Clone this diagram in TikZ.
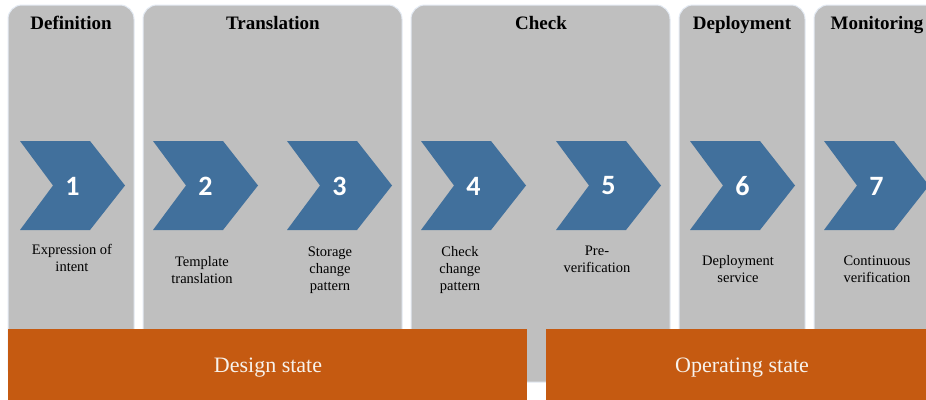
\documentclass[tikz,border=0pt]{standalone}
\usepackage{fontspec}
\setmainfont{Liberation Serif}
\newfontfamily\numfont{Carlito}
\definecolor{panelgrey}{HTML}{BFBFBF}
\definecolor{chevblue}{HTML}{41709C}
\definecolor{stateorange}{HTML}{C55A11}
\definecolor{glow}{HTML}{E4EBF4}
\definecolor{statetext}{HTML}{F7F2EC}
\begin{document}
\begin{tikzpicture}[x=1pt,y=-1pt,
  panel/.style={fill=panelgrey, draw=glow, line width=1pt, rounded corners=14pt},
  chev/.style={fill=chevblue},
  title/.style={font=\fontsize{19}{22}\selectfont\bfseries, anchor=base, inner sep=0pt},
  num/.style={font=\numfont\fontsize{28}{30}\selectfont\bfseries, text=white, inner sep=0pt},
  lbl/.style={font=\fontsize{14.5}{17}\selectfont, align=center, anchor=base, inner sep=0pt},
  statebar/.style={fill=stateorange},
  statelbl/.style={font=\fontsize{22}{26}\selectfont, text=statetext, anchor=base, inner sep=0pt}]
\useasboundingbox (0,0) rectangle (926,399);
\clip (0,0) rectangle (926,399);
\fill[white] (0,0) rectangle (926,399);
% panels
\filldraw[panel] (8,5) rectangle (134,382);
\filldraw[panel] (143,5) rectangle (402,382);
\filldraw[panel] (411,5) rectangle (670,382);
\filldraw[panel] (679,5) rectangle (805,382);
\filldraw[panel] (814,5) rectangle (945,382);
% titles
\node[title] (tdef) at (71,29) {Definition};
\node[title] (ttra) at (273,29) {Translation};
\node[title] (tchk) at (541,29) {Check};
\node[title] (tdep) at (742,29) {Deployment};
\node[title] (tmon) at (877,29) {Monitoring};
% chevrons
\foreach \i/\x in {1/20,2/153,3/287,4/421,5/556,6/690,7/824} {
  \fill[chev] (\x,141) -- ++(70,0) -- ++(35,44.5) -- ++(-35,44.5) -- ++(-70,0) -- ++(33,-44.5) -- cycle;
  \node[num] (n\i) at (\x+52.5,186) {\i};
}
% labels (anchor = baseline of last line)
\node[lbl] (l1) at (72,271) {Expression of\\intent};
\node[lbl] (l2) at (202,283) {Template\\translation};
\node[lbl] (l3) at (330,290) {Storage\\change\\pattern};
\node[lbl] (l4) at (460,290) {Check\\change\\pattern};
\node[lbl] (l5) at (597,272) {Pre-\\verification};
\node[lbl] (l6) at (738,282) {Deployment\\service};
\node[lbl] (l7) at (877,282) {Continuous\\verification};
% state bars
\fill[statebar] (8,329) rectangle (527,405);
\fill[statebar] (546,329) rectangle (930,405);
\node[statelbl] (sdesign) at (268,372) {Design state};
\node[statelbl] (soper) at (742,372) {Operating state};
\end{tikzpicture}
\end{document}
